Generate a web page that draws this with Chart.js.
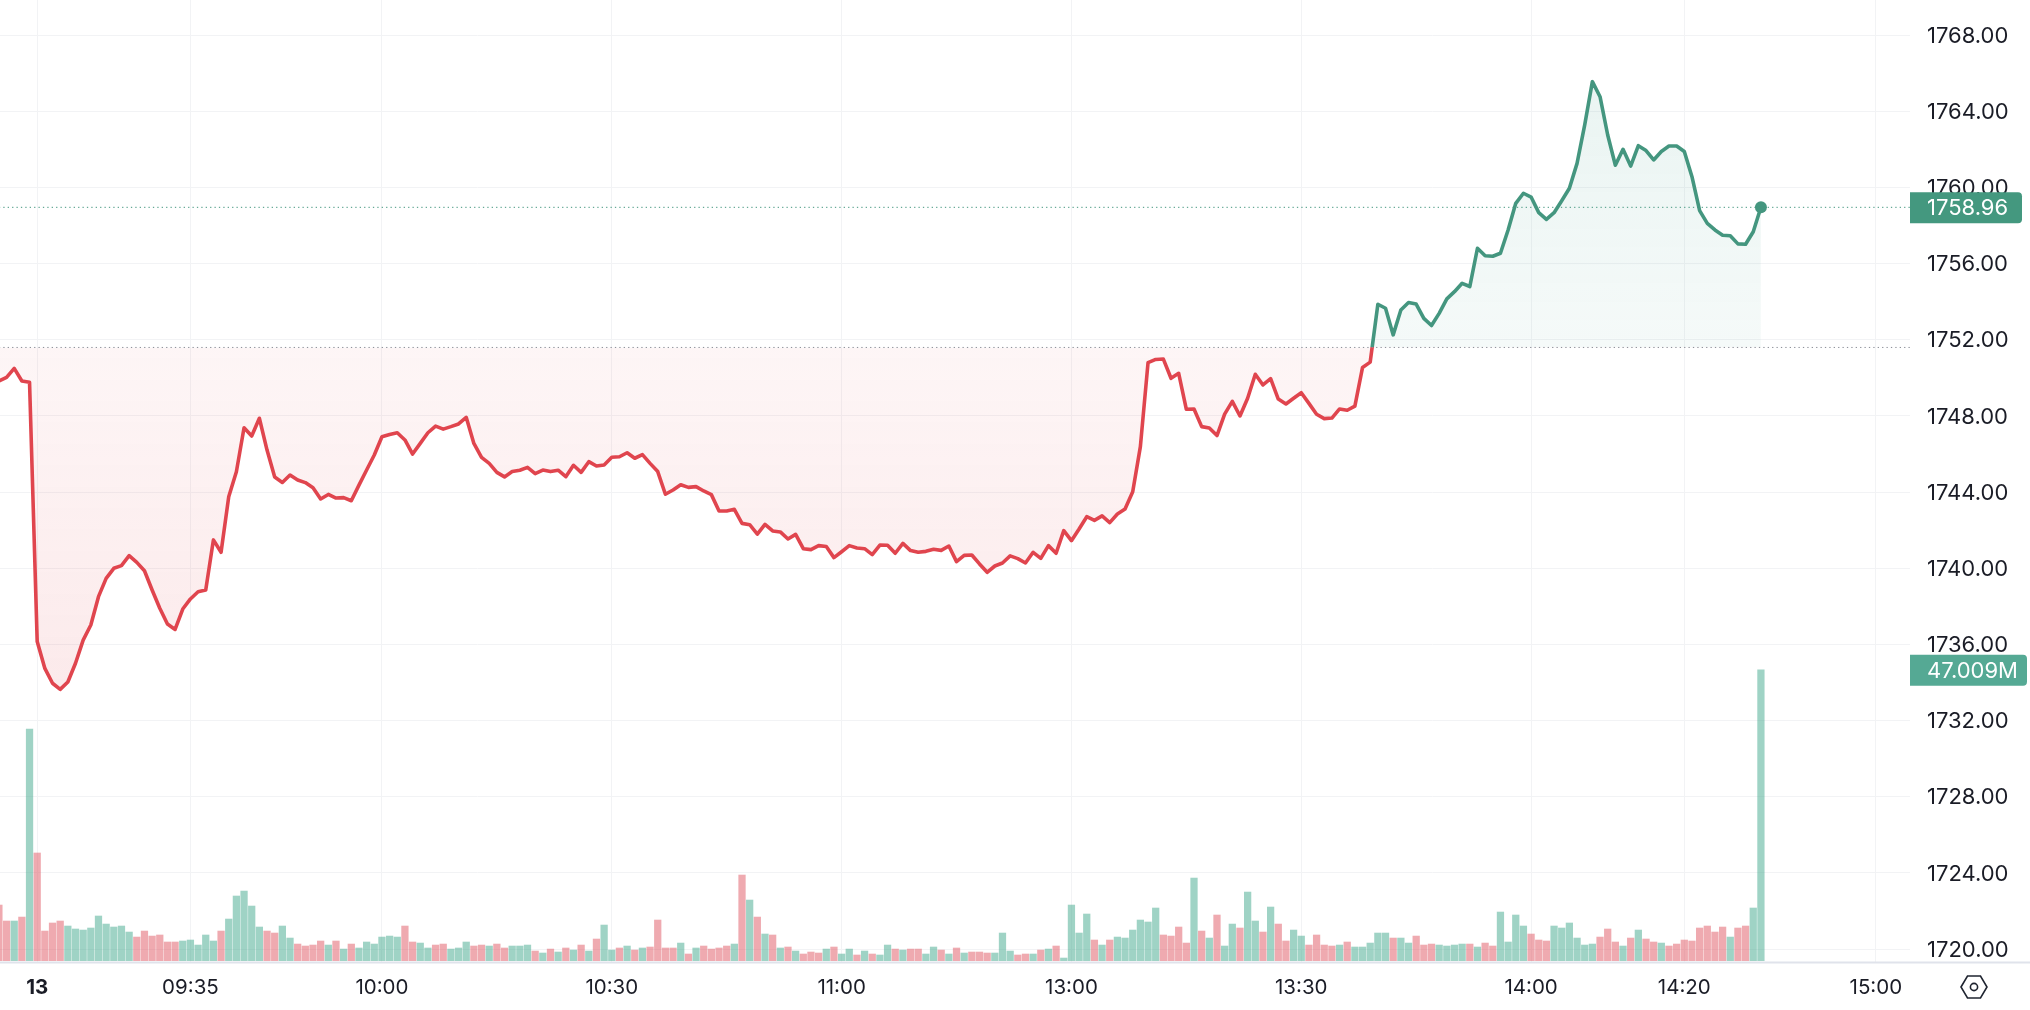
<!DOCTYPE html>
<html>
<head>
<meta charset="utf-8">
<script src="https://cdn.jsdelivr.net/npm/chart.js@4"></script>
<style>
  html, body { margin: 0; padding: 0; background: #fff; overflow: hidden; }
  canvas { display: block; }
</style>
</head>
<body>
<canvas id="chart" width="2030" height="1010"></canvas>
<script>
// close price per minute bar
var prices = [
  1749.84, 1750.03, 1750.50, 1749.84, 1749.77, 1736.15, 1734.74, 1733.96, 1733.64, 1734.03,
  1735.01, 1736.23, 1737.02, 1738.51, 1739.47, 1740.00, 1740.14, 1740.66, 1740.31, 1739.87,
  1738.86, 1737.90, 1737.07, 1736.79, 1737.86, 1738.39, 1738.77, 1738.86, 1741.49, 1740.84,
  1743.76, 1745.07, 1747.38, 1746.95, 1747.88, 1746.21, 1744.79, 1744.51, 1744.90, 1744.64,
  1744.50, 1744.23, 1743.64, 1743.88, 1743.69, 1743.71, 1743.55, 1744.37, 1745.16, 1745.95,
  1746.91, 1747.03, 1747.12, 1746.74, 1746.00, 1746.56, 1747.12, 1747.47, 1747.31, 1747.44,
  1747.58, 1747.93, 1746.56, 1745.83, 1745.51, 1745.04, 1744.80, 1745.08, 1745.15, 1745.30,
  1744.97, 1745.16, 1745.08, 1745.15, 1744.81, 1745.41, 1745.04, 1745.60, 1745.37, 1745.43,
  1745.83, 1745.86, 1746.07, 1745.78, 1745.97, 1745.51, 1745.08, 1743.89, 1744.11, 1744.39,
  1744.25, 1744.29, 1744.06, 1743.87, 1743.01, 1743.01, 1743.10, 1742.36, 1742.29, 1741.80,
  1742.31, 1741.96, 1741.91, 1741.54, 1741.78, 1741.03, 1740.98, 1741.19, 1741.14, 1740.56,
  1740.87, 1741.19, 1741.07, 1741.03, 1740.72, 1741.22, 1741.21, 1740.79, 1741.31, 1740.93,
  1740.84, 1740.89, 1741.00, 1740.94, 1741.17, 1740.35, 1740.68, 1740.70, 1740.23, 1739.79,
  1740.12, 1740.28, 1740.65, 1740.51, 1740.28, 1740.84, 1740.52, 1741.19, 1740.79, 1741.98,
  1741.45, 1742.06, 1742.71, 1742.52, 1742.75, 1742.40, 1742.85, 1743.11, 1744.02, 1746.39,
  1750.80, 1750.97, 1750.99, 1749.98, 1750.24, 1748.35, 1748.37, 1747.44, 1747.37, 1746.97,
  1748.10, 1748.77, 1748.00, 1748.93, 1750.19, 1749.63, 1749.96, 1748.89, 1748.63, 1748.93,
  1749.22, 1748.66, 1748.09, 1747.86, 1747.89, 1748.37, 1748.30, 1748.52, 1750.55, 1750.83,
  1753.87, 1753.66, 1752.26, 1753.57, 1753.96, 1753.88, 1753.13, 1752.75, 1753.39, 1754.15,
  1754.53, 1754.97, 1754.80, 1756.81, 1756.42, 1756.39, 1756.55, 1757.77, 1759.17, 1759.70,
  1759.50, 1758.68, 1758.33, 1758.68, 1759.31, 1759.96, 1761.27, 1763.29, 1765.56, 1764.77,
  1762.76, 1761.17, 1762.01, 1761.13, 1762.20, 1761.94, 1761.45, 1761.89, 1762.18, 1762.18,
  1761.89, 1760.57, 1758.79, 1758.12, 1757.77, 1757.49, 1757.47, 1757.04, 1757.02, 1757.68,
  1758.96
];

// volume in millions
var volumes = [
  8.99, 6.41, 6.41, 7.05, 37.40, 17.40, 4.79, 6.09, 6.41, 5.60,
  5.12, 4.95, 5.28, 7.22, 5.92, 5.44, 5.60, 4.63, 3.82, 4.79,
  3.98, 4.15, 3.02, 3.02, 3.18, 3.34, 2.53, 4.15, 3.18, 4.79,
  6.73, 10.45, 11.25, 8.83, 5.44, 4.79, 4.47, 5.60, 3.66, 2.69,
  2.37, 2.53, 3.18, 2.53, 3.18, 1.88, 2.69, 2.05, 3.02, 2.69,
  3.82, 3.98, 3.82, 5.60, 3.02, 2.85, 2.05, 2.53, 2.69, 1.88,
  2.05, 3.02, 2.37, 2.53, 2.37, 2.69, 2.05, 2.37, 2.37, 2.53,
  1.56, 1.24, 1.88, 1.40, 2.05, 1.72, 2.53, 1.56, 3.50, 5.76,
  1.72, 2.05, 2.37, 1.72, 2.05, 2.21, 6.57, 2.05, 2.05, 2.85,
  1.08, 2.05, 2.37, 1.88, 2.05, 2.37, 2.69, 13.84, 9.80, 7.05,
  4.31, 4.15, 2.05, 2.21, 1.56, 1.08, 1.40, 1.24, 1.88, 2.21,
  1.08, 1.88, 0.92, 1.56, 1.08, 0.92, 2.53, 1.88, 1.72, 1.88,
  1.88, 1.08, 2.21, 1.72, 1.08, 2.05, 1.24, 1.40, 1.40, 1.24,
  1.24, 4.47, 1.56, 0.92, 1.08, 1.08, 1.72, 1.88, 2.37, 0.43,
  8.99, 4.47, 7.54, 3.34, 2.53, 3.34, 3.82, 3.66, 4.95, 6.57,
  6.25, 8.51, 4.15, 3.98, 5.44, 2.85, 13.35, 4.79, 3.66, 7.38,
  2.37, 5.92, 5.28, 11.09, 6.41, 4.63, 8.67, 5.92, 3.18, 4.95,
  3.98, 2.53, 4.15, 2.53, 2.37, 2.53, 3.02, 2.21, 2.21, 2.85,
  4.47, 4.47, 3.66, 3.66, 2.85, 3.98, 2.53, 2.69, 2.53, 2.37,
  2.53, 2.69, 2.69, 2.21, 2.85, 2.37, 7.86, 3.02, 7.38, 5.60,
  4.31, 3.34, 3.18, 5.60, 5.28, 6.09, 3.66, 2.53, 2.69, 3.82,
  5.12, 3.02, 2.37, 3.66, 4.95, 3.50, 3.02, 2.85, 2.37, 2.69,
  3.34, 3.18, 5.28, 5.60, 4.63, 5.44, 3.82, 5.28, 5.60, 8.51,
  47.009
];

// 1 = up bar (green), 0 = down bar (red)
var volumeUp = [
  0, 0, 1, 0, 1, 0, 0, 0, 0, 1,
  1, 1, 1, 1, 1, 1, 1, 1, 0, 0,
  0, 0, 0, 0, 1, 1, 1, 1, 1, 0,
  1, 1, 1, 1, 1, 0, 0, 1, 1, 0,
  0, 0, 0, 1, 0, 1, 0, 1, 1, 1,
  1, 1, 1, 0, 0, 1, 1, 0, 0, 1,
  1, 1, 0, 0, 1, 0, 0, 1, 1, 1,
  0, 1, 0, 1, 0, 1, 0, 1, 0, 1,
  1, 0, 1, 0, 1, 0, 0, 0, 0, 1,
  0, 1, 0, 0, 0, 0, 1, 0, 1, 0,
  1, 0, 1, 0, 1, 0, 0, 0, 1, 0,
  1, 1, 0, 1, 0, 1, 1, 0, 1, 0,
  0, 1, 1, 0, 1, 0, 1, 0, 0, 0,
  1, 1, 1, 0, 0, 1, 0, 1, 0, 1,
  1, 1, 1, 0, 1, 0, 1, 1, 1, 1,
  1, 1, 0, 0, 0, 0, 1, 0, 1, 0,
  1, 1, 0, 1, 1, 0, 1, 0, 0, 1,
  1, 0, 0, 0, 0, 1, 0, 1, 1, 1,
  1, 1, 0, 1, 1, 0, 0, 0, 1, 1,
  1, 1, 0, 1, 0, 0, 1, 1, 1, 1,
  0, 0, 0, 1, 1, 1, 1, 1, 1, 0,
  0, 0, 1, 0, 1, 0, 0, 1, 0, 0,
  0, 0, 0, 0, 0, 0, 1, 0, 0, 1,
  1
];

var timeTickBars = [5, 25, 50, 80, 110, 140, 170, 200, 220, 245];
var timeTickLabels = ['13', '09:35', '10:00', '10:30', '11:00', '13:00', '13:30', '14:00', '14:20', '15:00'];
var priceTicks = [1720, 1724, 1728, 1732, 1736, 1740, 1744, 1748, 1752, 1756, 1760, 1764, 1768];

var prevClose = 1751.6;
var lastPrice = 1758.96;
var lastVolume = '47.009M';

var GREEN = '#44967f';
var RED = '#e0454e';
var FONT = 'Inter, "Noto Sans", sans-serif';

var priceData = prices.map(function (p, i) { return { x: i, y: p }; });
var volumeData = volumes.map(function (v, i) { return { x: i, y: v }; });

// line turns green above the previous close
function lineColor(c) {
  var chart = c.chart;
  if (!chart.chartArea) return RED;
  var h = chart.height;
  var stop = chart.scales.y.getPixelForValue(prevClose) / h;
  var g = chart.ctx.createLinearGradient(0, 0, 0, h);
  g.addColorStop(0, GREEN);
  g.addColorStop(stop, GREEN);
  g.addColorStop(stop, RED);
  g.addColorStop(1, RED);
  return g;
}

function fillAbove(c) {
  var chart = c.chart;
  if (!chart.chartArea) return 'rgba(60,155,135,0.08)';
  var y = chart.scales.y;
  var g = chart.ctx.createLinearGradient(0, y.getPixelForValue(1766), 0, y.getPixelForValue(prevClose));
  g.addColorStop(0, 'rgba(60,155,135,0.11)');
  g.addColorStop(1, 'rgba(60,155,135,0.05)');
  return g;
}

function fillBelow(c) {
  var chart = c.chart;
  if (!chart.chartArea) return 'rgba(226,69,79,0.08)';
  var y = chart.scales.y;
  var g = chart.ctx.createLinearGradient(0, y.getPixelForValue(prevClose), 0, y.getPixelForValue(1733.6));
  g.addColorStop(0, 'rgba(224,69,78,0.05)');
  g.addColorStop(1, 'rgba(224,69,78,0.115)');
  return g;
}

function drawTag(ctx, x, y, w, h, color, text) {
  ctx.fillStyle = color;
  ctx.beginPath();
  ctx.roundRect(x, y, w, h, [0, 4, 4, 0]);
  ctx.fill();
  ctx.fillStyle = '#fff';
  ctx.font = '22px ' + FONT;
  ctx.textAlign = 'left';
  ctx.textBaseline = 'middle';
  ctx.fillText(text, x + 17, y + h / 2 + 1);
}

// axis line across the whole width, price tags and settings icon
var extrasPlugin = {
  id: 'extras',
  afterDraw: function (chart) {
    var ctx = chart.ctx;
    var area = chart.chartArea;
    ctx.save();

    ctx.strokeStyle = '#e0e3eb';
    ctx.lineWidth = 2;
    ctx.beginPath();
    ctx.moveTo(0, area.bottom + 0.5);
    ctx.lineTo(chart.width, area.bottom + 0.5);
    ctx.stroke();

    drawTag(ctx, area.right, chart.scales.y.getPixelForValue(lastPrice) - 15, 112, 31, '#44987f', lastPrice.toFixed(2));
    drawTag(ctx, area.right, chart.scales.vol.getPixelForValue(47.009) - 15, 117, 31, '#55a994', lastVolume);

    // hexagon icon
    var cx = 1974, cy = 987;
    ctx.strokeStyle = '#1f2430';
    ctx.lineWidth = 1.6;
    ctx.beginPath();
    ctx.moveTo(cx - 13, cy);
    ctx.lineTo(cx - 6.5, cy - 11);
    ctx.lineTo(cx + 6.5, cy - 11);
    ctx.lineTo(cx + 13, cy);
    ctx.lineTo(cx + 6.5, cy + 11);
    ctx.lineTo(cx - 6.5, cy + 11);
    ctx.closePath();
    ctx.stroke();
    ctx.beginPath();
    ctx.arc(cx, cy, 3.6, 0, Math.PI * 2);
    ctx.stroke();

    ctx.restore();
  }
};

var lineEnds = [0, 249.46];

// labels near the edges must not push the plot area in
function noPadding(scale) {
  scale.paddingLeft = 0;
  scale.paddingRight = 0;
  scale.paddingTop = 0;
  scale.paddingBottom = 0;
}

new Chart(document.getElementById('chart'), {
  type: 'bar',
  plugins: [extrasPlugin],
  data: {
    datasets: [
      {
        type: 'line',
        data: priceData,
        yAxisID: 'y',
        order: 1,
        borderColor: lineColor,
        borderWidth: 3.6,
        borderJoinStyle: 'round',
        tension: 0,
        fill: { target: { value: prevClose }, above: fillAbove, below: fillBelow },
        pointRadius: function (c) { return c.dataIndex === prices.length - 1 ? 6 : 0; },
        pointBackgroundColor: GREEN,
        pointBorderWidth: 0
      },
      {
        type: 'line',
        data: lineEnds.map(function (x) { return { x: x, y: prevClose }; }),
        yAxisID: 'y',
        order: 0,
        borderColor: '#8a8d96',
        borderWidth: 1,
        borderDash: [1.3, 3.1],
        pointRadius: 0,
        fill: false
      },
      {
        type: 'line',
        data: lineEnds.map(function (x) { return { x: x, y: lastPrice }; }),
        yAxisID: 'y',
        order: 0,
        borderColor: GREEN,
        borderWidth: 1,
        borderDash: [1.3, 3.1],
        pointRadius: 0,
        fill: false
      },
      {
        type: 'bar',
        data: volumeData,
        yAxisID: 'vol',
        order: 2,
        barThickness: 6.6,
        backgroundColor: function (c) {
          return volumeUp[c.dataIndex] ? 'rgba(64,167,140,0.5)' : 'rgba(224,85,97,0.5)';
        }
      }
    ]
  },
  options: {
    responsive: false,
    animation: false,
    layout: { padding: 0, autoPadding: false },
    plugins: { legend: { display: false }, tooltip: { enabled: false } },
    scales: {
      x: {
        type: 'linear',
        offset: false,
        min: 0.144,
        max: 249.46,
        afterBuildTicks: function (scale) {
          scale.ticks = timeTickBars.map(function (b) { return { value: b }; });
        },
        afterFit: function (scale) {
          scale.height = 48;
          noPadding(scale);
        },
        border: { display: false },
        grid: { color: '#f2f3f5', lineWidth: 1, offset: false, drawTicks: false },
        ticks: {
          autoSkip: false,
          maxRotation: 0,
          padding: 14,
          color: '#1a1c26',
          font: function (c) {
            var bold = c.tick && c.tick.value === timeTickBars[0];
            return { family: FONT, size: 20.5, weight: bold ? '700' : '400' };
          },
          callback: function (value) {
            return timeTickLabels[timeTickBars.indexOf(value)];
          }
        }
      },
      y: {
        position: 'right',
        min: 1719.32,
        max: 1769.85,
        afterBuildTicks: function (scale) {
          scale.ticks = priceTicks.map(function (p) { return { value: p }; });
        },
        afterFit: function (scale) {
          scale.width = 120;
          noPadding(scale);
        },
        border: { display: false },
        grid: { color: '#f2f3f5', lineWidth: 1, drawTicks: false },
        ticks: {
          autoSkip: false,
          padding: 17,
          labelOffset: 1,
          color: '#1a1c26',
          font: { family: FONT, size: 22 },
          callback: function (value) { return value.toFixed(2); }
        }
      },
      vol: {
        display: false,
        min: -0.21,
        max: 155.2
      }
    }
  }
});
</script>
</body>
</html>
